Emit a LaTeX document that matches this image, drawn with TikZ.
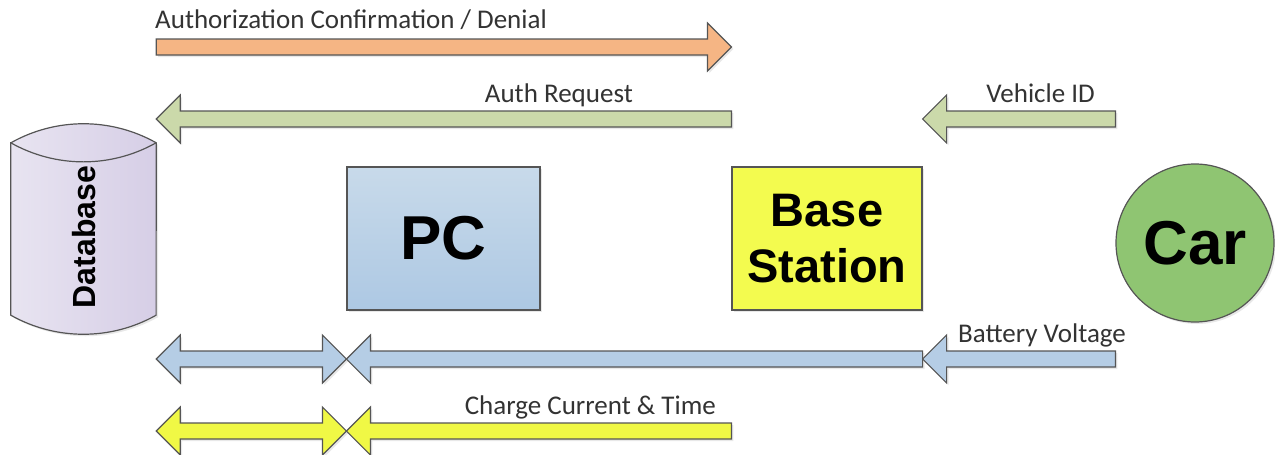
\documentclass[tikz,border=0pt]{standalone}
\usepackage{fontspec}
\setmainfont{Carlito}
\newfontfamily\headfont{Liberation Sans}
\usetikzlibrary{calc,shadows}

\definecolor{linegray}{HTML}{555555}
\definecolor{textgray}{HTML}{333333}
\definecolor{authorange}{HTML}{F5B584}
\definecolor{reqgreen}{HTML}{CBD9AA}
\definecolor{voltblue}{HTML}{B5CDE5}
\definecolor{chargeyellow}{HTML}{F0F845}
\definecolor{pctop}{HTML}{C8DAEA}
\definecolor{pcbottom}{HTML}{ADC8E3}
\definecolor{bsyellow}{HTML}{F3FB4F}
\definecolor{cargreen}{HTML}{8FC572}
\definecolor{dbleft}{HTML}{E8E4F1}
\definecolor{dbright}{HTML}{D6CEE6}

\tikzset{
  box/.style={draw=linegray, line width=1.2pt},
  softshadow/.style={drop shadow={opacity=0.18, shadow xshift=2pt, shadow yshift=-2pt}},
  lbl/.style={font=\fontsize{27}{31}\selectfont, text=textgray, inner sep=0pt},
  bigname/.style={font=\headfont\bfseries\fontsize{62}{66}\selectfont, align=center},
  blockarrow/.style={draw=linegray, line width=1.2pt, line join=miter},
  caparc/.style={radius=148pt, delta angle=58.8},
}

% block arrow from tail #2 to tip #3
\newcommand{\blockarr}[3]{%
  \draw[blockarrow, softshadow, fill=#1] let \p1=(#2), \p2=(#3), \n1={sign(\x1-\x2)*24} in
    ({\x1},{\y1+8pt}) -- ({\x2+\n1},{\y2+8pt}) -- ({\x2+\n1},{\y2+24pt}) -- (\p2)
    -- ({\x2+\n1},{\y2-24pt}) -- ({\x2+\n1},{\y2-8pt}) -- ({\x1},{\y1-8pt}) -- cycle;}
% block arrow with a head at both ends
\newcommand{\dblarr}[3]{%
  \draw[blockarrow, softshadow, fill=#1] let \p1=(#2), \p2=(#3), \n1={sign(\x2-\x1)*24} in
    (\p1) -- ({\x1+\n1},{\y1+24pt}) -- ({\x1+\n1},{\y1+8pt}) -- ({\x2-\n1},{\y2+8pt})
    -- ({\x2-\n1},{\y2+24pt}) -- (\p2) -- ({\x2-\n1},{\y2-24pt}) -- ({\x2-\n1},{\y2-8pt})
    -- ({\x1+\n1},{\y1-8pt}) -- ({\x1+\n1},{\y1-24pt}) -- cycle;}

\begin{document}
\begin{tikzpicture}[x=1pt, y=-1pt]
  \useasboundingbox[fill=white] (0,0) rectangle (1275,455);

  % database cylinder
  \node[minimum width=145pt, minimum height=172pt, inner sep=0pt] (db) at (83.5,229) {};
  \draw[box, softshadow, left color=dbleft, right color=dbright]
    (db.north west) -- (db.south west) arc[start angle=240.6, caparc]
    -- (db.north east) arc[start angle=60.6, caparc] -- cycle;
  \draw[box] (db.north west) arc[start angle=240.6, caparc];
  \node[rotate=90, font=\headfont\bfseries\fontsize{32}{35}\selectfont] (dblbl) at (84,237) {Database};

  \node[box, softshadow, top color=pctop, bottom color=pcbottom, minimum width=193pt, minimum height=143pt, bigname] (pc) at (443.5,238.5) {PC};
  \node[box, softshadow, fill=bsyellow, minimum width=190pt, minimum height=143pt, bigname, font=\headfont\bfseries\fontsize{47}{56}\selectfont] (bs) at (827,238.5) {Base\\Station};
  \node[box, softshadow, circle, fill=cargreen, minimum size=158pt, inner sep=0pt, bigname] (car) at (1195,243) {Car};

  \coordinate (authrow) at (0,47);
  \coordinate (reqrow) at (0,119);
  \coordinate (voltrow) at (0,359);
  \coordinate (chargerow) at (0,431);

  \blockarr{authorange}{db.east |- authrow}{bs.west |- authrow}
  \blockarr{reqgreen}{bs.west |- reqrow}{db.east |- reqrow}
  \blockarr{reqgreen}{car.west |- reqrow}{bs.east |- reqrow}

  \dblarr{voltblue}{db.east |- voltrow}{pc.west |- voltrow}
  \blockarr{voltblue}{bs.east |- voltrow}{pc.west |- voltrow}
  \blockarr{voltblue}{car.west |- voltrow}{bs.east |- voltrow}

  \dblarr{chargeyellow}{db.east |- chargerow}{pc.west |- chargerow}
  \blockarr{chargeyellow}{bs.west |- chargerow}{pc.west |- chargerow}

  \node[lbl, anchor=base west] (authlbl) at (155,28) {Authorization Confirmation / Denial};
  \node[lbl, anchor=base east] (reqlbl) at (633,102) {Auth Request};
  \node[lbl, anchor=base east] (idlbl) at (1095,102) {Vehicle ID};
  \node[lbl, anchor=base west] (voltlbl) at (958,342) {Battery Voltage};
  \node[lbl, anchor=base east] (chargelbl) at (716,414) {Charge Current \& Time};
\end{tikzpicture}
\end{document}
